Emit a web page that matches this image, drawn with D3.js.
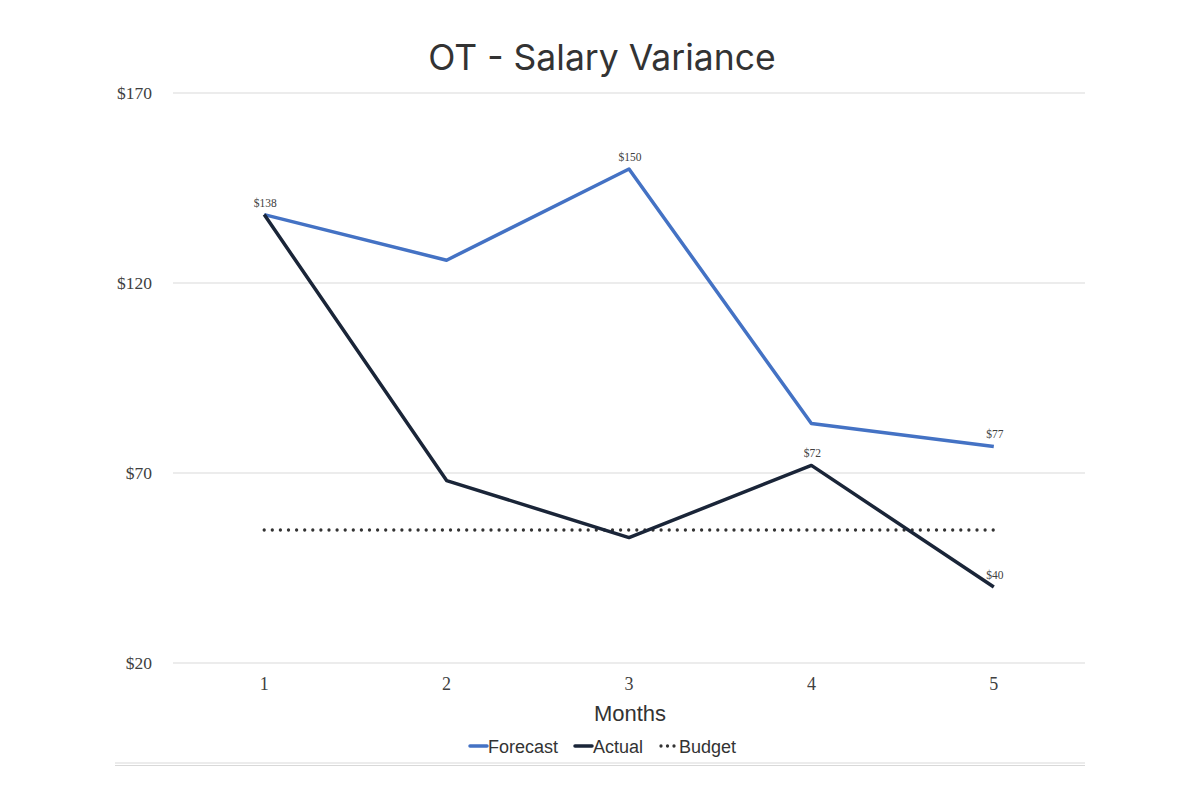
<!DOCTYPE html>
<html>
<head>
<meta charset="utf-8">
<script src="https://cdn.jsdelivr.net/npm/d3@7"></script>
<style>
  body { margin: 0; background: #fff; }
</style>
</head>
<body>
<div id="chart"></div>
<script>
// data
var months = ["1", "2", "3", "4", "5"];
var forecast = [138, 126, 150, 83, 77];
var actual = [138, 68, 53, 72, 40];
var budget = [55, 55, 55, 55, 55];
var yTicks = [20, 70, 120, 170];
// which points carry a data label
var forecastLabels = [0, 2, 4];
var actualLabels = [3, 4];

var svgWidth = 1200;
var svgHeight = 800;

var margin = { top: 93, right: 115, bottom: 137, left: 173 };
var width = svgWidth - margin.left - margin.right;
var height = svgHeight - margin.top - margin.bottom;

var svg = d3.select("#chart")
  .append("svg")
  .attr("width", svgWidth)
  .attr("height", svgHeight);

var chartGroup = svg.append("g")
  .attr("transform", `translate(${margin.left}, ${margin.top})`);

var xScale = d3.scaleBand()
  .domain(months)
  .range([0, width]);

var yScale = d3.scaleLinear()
  .domain([20, 170])
  .range([height, 0]);

var xPos = d => xScale(d) + xScale.bandwidth() / 2;

// gridlines
chartGroup.selectAll(".grid")
  .data(yTicks)
  .enter()
  .append("line")
  .attr("x1", 0)
  .attr("x2", width)
  .attr("y1", d => yScale(d))
  .attr("y2", d => yScale(d))
  .attr("stroke", "#d9d9d9")
  .attr("stroke-width", 1);

// y axis labels
var leftAxis = d3.axisLeft(yScale)
  .tickValues(yTicks)
  .tickSize(0)
  .tickPadding(21)
  .tickFormat(d => "$" + d);

chartGroup.append("g")
  .call(leftAxis)
  .call(g => g.select(".domain").remove())
  .selectAll("text")
  .attr("font-family", "'Liberation Serif', 'DejaVu Serif', serif")
  .attr("font-size", 17.5)
  .attr("fill", "#404040");

// x axis labels
var bottomAxis = d3.axisBottom(xScale)
  .tickSize(0)
  .tickPadding(14);

chartGroup.append("g")
  .attr("transform", `translate(0, ${height})`)
  .call(bottomAxis)
  .call(g => g.select(".domain").remove())
  .selectAll("text")
  .attr("font-family", "'Liberation Serif', 'DejaVu Serif', serif")
  .attr("font-size", 18)
  .attr("fill", "#404040");

// lines
var line = d3.line()
  .x((d, i) => xPos(months[i]))
  .y(d => yScale(d));

chartGroup.append("path")
  .datum(budget)
  .attr("d", line)
  .attr("fill", "none")
  .attr("stroke", "#333")
  .attr("stroke-width", 3.3)
  .attr("stroke-linecap", "round")
  .attr("stroke-dasharray", "0 8.1");

chartGroup.append("path")
  .datum(forecast)
  .attr("d", line)
  .attr("fill", "none")
  .attr("stroke", "#4472c4")
  .attr("stroke-width", 3.5)
  .attr("stroke-linejoin", "round");

chartGroup.append("path")
  .datum(actual)
  .attr("d", line)
  .attr("fill", "none")
  .attr("stroke", "#1a2538")
  .attr("stroke-width", 3.5)
  .attr("stroke-linejoin", "round");

// data labels
function addLabels(values, idx) {
  chartGroup.selectAll(null)
    .data(idx)
    .enter()
    .append("text")
    .attr("x", i => xPos(months[i]) + 1)
    .attr("y", i => yScale(values[i]) - 8)
    .attr("text-anchor", "middle")
    .attr("font-family", "'Liberation Serif', 'DejaVu Serif', serif")
    .attr("font-size", 11.5)
    .attr("fill", "#404040")
    .text(i => "$" + values[i]);
}
addLabels(forecast, forecastLabels);
addLabels(actual, actualLabels);

// title
svg.append("text")
  .attr("x", 602)
  .attr("y", 70)
  .attr("text-anchor", "middle")
  .attr("font-family", "Inter, 'Noto Sans', sans-serif")
  .attr("font-size", 35.5)
  .attr("fill", "#333")
  .text("OT - Salary Variance");

// x axis title
svg.append("text")
  .attr("x", 630)
  .attr("y", 721)
  .attr("text-anchor", "middle")
  .attr("font-family", "'Liberation Sans', Arial, sans-serif")
  .attr("font-size", 22)
  .attr("fill", "#333")
  .text("Months");

// legend
var legendItems = [
  { name: "Forecast", color: "#4472c4", dash: null, x: 469 },
  { name: "Actual", color: "#1a2538", dash: null, x: 574 },
  { name: "Budget", color: "#333", dash: "0 6.5", x: 660 }
];

var legend = svg.selectAll(".legend")
  .data(legendItems)
  .enter()
  .append("g")
  .attr("transform", d => `translate(${d.x}, 746)`);

legend.append("line")
  .attr("x1", 1)
  .attr("x2", 18)
  .attr("y1", 0)
  .attr("y2", 0)
  .attr("stroke", d => d.color)
  .attr("stroke-width", d => d.dash ? 3.3 : 3.5)
  .attr("stroke-linecap", "round")
  .attr("stroke-dasharray", d => d.dash);

legend.append("text")
  .attr("x", 19)
  .attr("y", 6.5)
  .attr("font-family", "'Liberation Sans', Arial, sans-serif")
  .attr("font-size", 18)
  .attr("fill", "#333")
  .text(d => d.name);

// faint double rule at the bottom
[763, 765.5].forEach(function (y) {
  svg.append("line")
    .attr("x1", 115)
    .attr("x2", 1085)
    .attr("y1", y)
    .attr("y2", y)
    .attr("stroke", "#d9d9d9")
    .attr("stroke-width", 1);
});
</script>
</body>
</html>
